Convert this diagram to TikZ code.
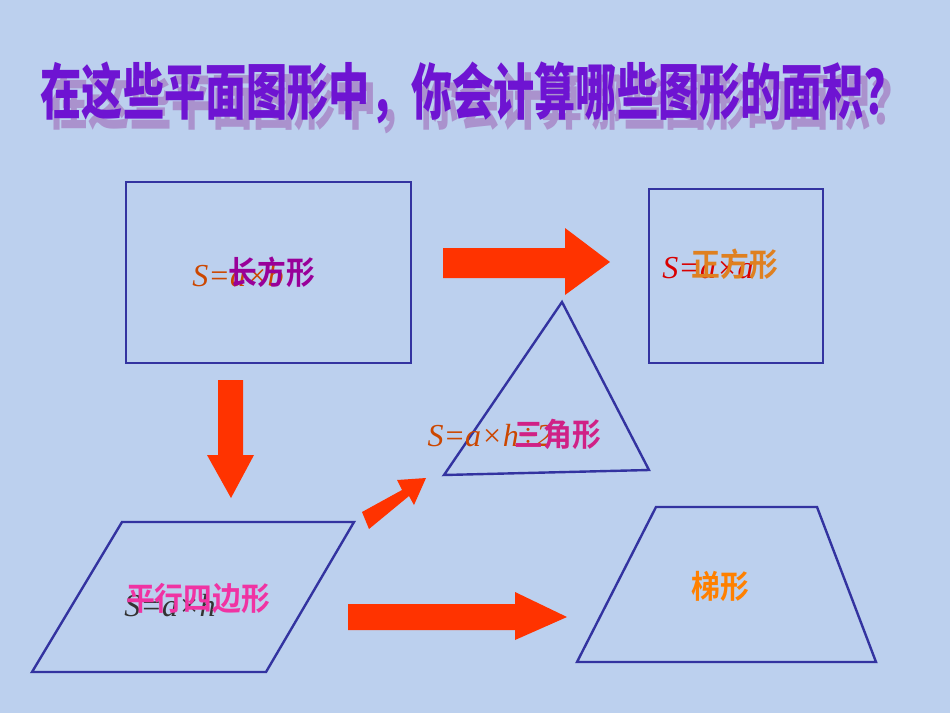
\documentclass[tikz,border=0pt]{standalone}
\usepackage{fontspec}
\newfontfamily\cjk{Noto Sans CJK SC Bold}
\newfontfamily\cjkb{Noto Sans CJK SC Black}
\setmainfont{Liberation Serif}
\begin{document}
\begin{tikzpicture}[x=1pt,y=-1pt,
  outl/.style={draw={rgb,255:red,51;green,51;blue,160},line width=2.4pt},
  blk/.style={fill={rgb,255:red,255;green,51;blue,0}},
  formula/.style={font=\fontsize{32}{32}\selectfont\itshape,text=orange!70!red!80!black},
  cname/.style={font=\cjk\fontsize{32}{32}\selectfont,text=#1,xscale=0.9}]
\definecolor{bg}{HTML}{BCD0EE}
\fill[bg] (0,0) rectangle (950,713);
% title
\node[font=\cjkb\fontsize{42}{42}\selectfont,text=violet!30!bg,xscale=0.98,yscale=1.45] (titleS) at (480,103) {在这些平面图形中，你会计算哪些图形的面积？};
\node[font=\cjkb\fontsize{42}{42}\selectfont,text={rgb,255:red,110;green,20;blue,210},xscale=0.98,yscale=1.45] (title) at (473,93) {在这些平面图形中，你会计算哪些图形的面积？};
% shapes
\draw[outl] (126,182) rectangle (411,363);
\draw[outl] (649,189) rectangle (823,363);
\draw[outl] (562,302) -- (649,470) -- (444,475) -- cycle;
\draw[outl] (122,522) -- (354,522) -- (266,672) -- (32,672) -- cycle;
\draw[outl] (656,507) -- (817,507) -- (876,662) -- (577,662) -- cycle;
% arrows
\fill[blk] (443,248) -- (565,248) -- (565,228) -- (610,262) -- (565,295) -- (565,278) -- (443,278) -- cycle;
\fill[blk] (218,380) -- (243,380) -- (243,455) -- (254,455) -- (231,498) -- (207,455) -- (218,455) -- cycle;
\fill[blk] (362,512) -- (402,490) -- (397,480) -- (426,478) -- (414,505) -- (409,496) -- (369,529) -- cycle;
\fill[blk] (348,604) -- (515,604) -- (515,592) -- (567,617) -- (515,640) -- (515,630) -- (348,630) -- cycle;
% labels
\node[formula] (f1) at (238,276) {S=a×b};
\node[cname=violet!80!magenta] (n1) at (272,272) {长方形};
\node[formula,text=red!85!black] (f2) at (708,268) {S=a×a};
\node[cname=orange!50!brown] (n2) at (735,264) {正方形};
\node[formula] (f3) at (490,436) {S=a×h÷2};
\node[cname=magenta!70!violet] (n3) at (558,434) {三角形};
\node[formula,text=black!80] (f4) at (170,606) {S=a×h};
\node[cname=magenta!80] (n4) at (198,598) {平行四边形};
\node[cname=orange] (n5) at (720,586) {梯形};
\end{tikzpicture}
\end{document}
